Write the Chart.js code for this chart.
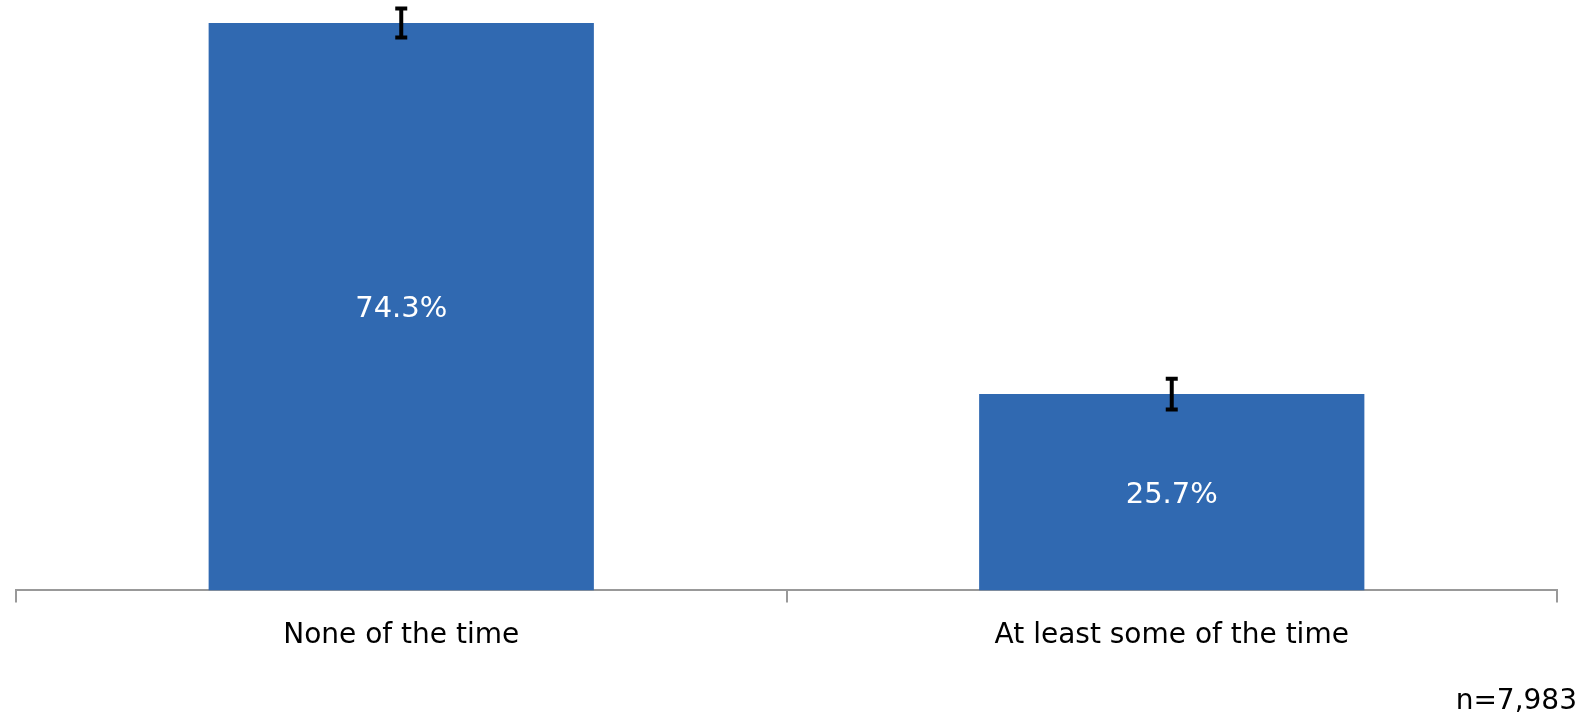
<!DOCTYPE html>
<html>
<head>
<meta charset="utf-8">
<script src="https://cdn.jsdelivr.net/npm/chart.js@4.4.1/dist/chart.umd.min.js"></script>
<style>
  html, body { margin: 0; padding: 0; background: #fff; }
  #wrap { width: 1585px; height: 721px; position: relative; }
</style>
</head>
<body>
<div id="wrap"><canvas id="chart"></canvas></div>
<script>
// data
const categories = ["None of the time", "At least some of the time"];
const values = [74.3, 25.7];
const errors = [1.9, 2.0];
const sampleNote = "n=7,983";

const FONT = "'DejaVu Sans', Verdana, sans-serif";

// error bars + value labels
const barExtras = {
  id: "barExtras",
  afterDatasetsDraw(chart) {
    const ctx = chart.ctx;
    const meta = chart.getDatasetMeta(0);
    const y = chart.scales.y;
    ctx.save();
    meta.data.forEach((bar, i) => {
      // value label in the middle of the bar
      ctx.fillStyle = "#ffffff";
      ctx.font = "29px " + FONT;
      ctx.textAlign = "center";
      ctx.textBaseline = "middle";
      ctx.fillText(values[i].toFixed(1) + "%", bar.x, (bar.y + bar.base) / 2 + 3);

      // error bar
      const top = y.getPixelForValue(values[i] + errors[i]);
      const bot = y.getPixelForValue(values[i] - errors[i]);
      ctx.strokeStyle = "#000000";
      ctx.lineWidth = 4;
      ctx.beginPath();
      ctx.moveTo(bar.x, top);
      ctx.lineTo(bar.x, bot);
      ctx.stroke();
      ctx.beginPath();
      ctx.moveTo(bar.x - 6, top);
      ctx.lineTo(bar.x + 6, top);
      ctx.moveTo(bar.x - 6, bot);
      ctx.lineTo(bar.x + 6, bot);
      ctx.stroke();
    });
    // sample size note, bottom right
    ctx.fillStyle = "#000000";
    ctx.font = "28px " + FONT;
    ctx.textAlign = "right";
    ctx.textBaseline = "middle";
    ctx.fillText(sampleNote, chart.width - 8, 702);
    ctx.restore();
  }
};

new Chart(document.getElementById("chart"), {
  type: "bar",
  data: {
    labels: categories,
    datasets: [{
      data: values,
      backgroundColor: "#3069B1",
      categoryPercentage: 1.0,
      barPercentage: 0.5
    }]
  },
  options: {
    responsive: true,
    maintainAspectRatio: false,
    animation: false,
    layout: { padding: { left: 16, right: 28, top: 0, bottom: 51 } },
    plugins: {
      legend: { display: false },
      tooltip: { enabled: false }
    },
    scales: {
      x: {
        grid: {
          offset: true,
          drawOnChartArea: false,
          drawTicks: true,
          tickLength: 12,
          color: "#999999",
          lineWidth: 2
        },
        border: { display: true, color: "#999999", width: 2 },
        ticks: {
          color: "#000000",
          padding: 17,
          font: { family: FONT, size: 28 }
        }
      },
      y: {
        display: false,
        min: 0,
        max: 77.3
      }
    }
  },
  plugins: [barExtras]
});
</script>
</body>
</html>
